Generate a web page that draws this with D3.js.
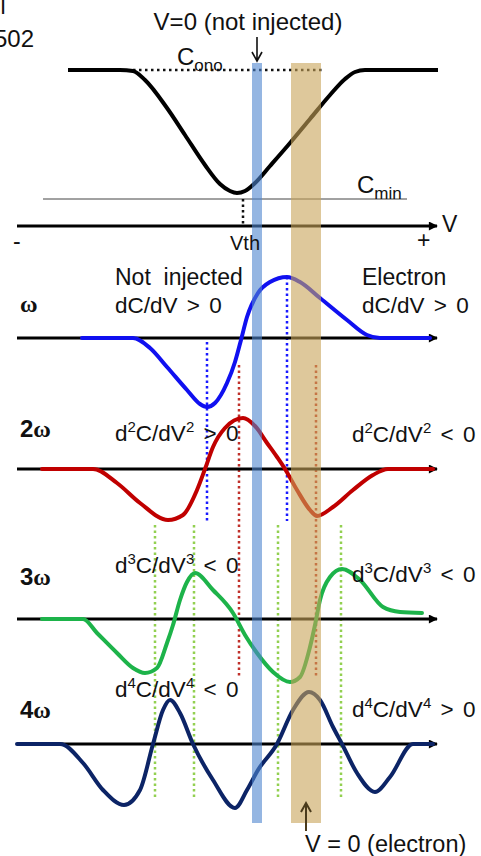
<!DOCTYPE html>
<html>
<head>
<meta charset="utf-8">
<script src="https://cdn.jsdelivr.net/npm/d3@7"></script>
<style>
  body { margin: 0; background: #fff; }
  svg { display: block; font-family: "Liberation Sans", Arial, sans-serif; }
  text { white-space: pre; }
</style>
</head>
<body>
<svg id="chart" width="481" height="856"></svg>
<script>
// gate voltage in arbitrary units, Vth close to 0
const cvCurve = [[-159,129],[-107,129],[-94,128],[-82,119],[-60,91],[-42,64],[-22,34],[-7,15],[3,8],[10,6],[18,8],[28,16],[43,33],[63,56],[83,80],[103,104],[118,120],[128,127],[138,129],[211,129]]
const harmonic1 = [[-145,0],[-94,0],[-77,-10],[-60,-29],[-40,-52],[-27,-66],[-20,-69],[-12,-65],[0,-45],[8,-24],[14,-2],[20,21],[31,45],[43,56],[60,61],[73,56],[93,40],[120,18],[140,3],[153,0],[203,0]]
const harmonic2 = [[-185,0],[-134,0],[-110,-14],[-87,-34],[-59,-51],[-44,-46],[-30,-21],[-22,0],[-14,22],[-2,41],[16,51],[28,43],[40,26],[50,12],[58,0],[70,-21],[83,-41],[90,-47],[106,-38],[126,-21],[146,-6],[161,0],[206,0]]
const harmonic3 = [[-185,0],[-144,0],[-130,-14],[-110,-34],[-94,-49],[-82,-54],[-70,-49],[-60,-24],[-54,-6],[-47,19],[-40,37],[-32,46],[-14,29],[6,6],[18,-16],[30,-34],[46,-53],[63,-63],[73,-58],[83,-28],[88,-6],[93,19],[103,42],[115,50],[133,39],[156,12],[173,7],[195,6]]
const harmonic4 = [[-210,0],[-167,0],[-144,-19],[-124,-46],[-103,-61],[-87,-46],[-74,0],[-64,34],[-57,44],[-47,31],[-34,0],[-14,-36],[8,-64],[20,-46],[31,-26],[50,0],[66,34],[82,52],[93,44],[106,17],[115,0],[130,-29],[148,-48],[163,-33],[186,0],[206,0]]

const vth = 16
const bandNotInjected = [25, 35]
const bandElectron = [64, 94]
const guides1 = [-20, 60]
const guides2 = [12, 89]
const guides3 = [-72, -33, 51, 114]

const svg = d3.select('#chart')
const x = d3.scaleLinear().domain([-210, 210]).range([17, 437])
const yC = d3.scaleLinear().domain([0, 129]).range([199, 70])

const panels = [
  { key: 'h1', data: harmonic1, axisY: 338, color: '#1010f0', n: '', left: 'dC/dV > 0', right: 'dC/dV > 0', ly: 313, ry: 313, labelY: 312 },
  { key: 'h2', data: harmonic2, axisY: 469, color: '#c00000', n: '2', left: '> 0', right: '< 0', ly: 441, ry: 442, labelY: 437 },
  { key: 'h3', data: harmonic3, axisY: 619, color: '#1db34a', n: '3', left: '< 0', right: '< 0', ly: 573, ry: 582, labelY: 585 },
  { key: 'h4', data: harmonic4, axisY: 744, color: '#0c2466', n: '4', left: '< 0', right: '> 0', ly: 697, ry: 717, labelY: 718 },
]
panels.forEach((p) => {
  p.y = d3.scaleLinear().domain([-100, 100]).range([p.axisY + 100, p.axisY - 100])
})

const defs = svg.append('defs')
defs.append('marker')
  .attr('id', 'arrow')
  .attr('viewBox', '0 0 10 10')
  .attr('refX', 9).attr('refY', 5)
  .attr('markerWidth', 10).attr('markerHeight', 9)
  .attr('markerUnits', 'userSpaceOnUse')
  .attr('orient', 'auto')
  .append('path').attr('d', 'M0,0L10,5L0,10Z').attr('fill', '#000')

// guide lines (dotted), under everything
const dotted = (g, xv, y1, y2, color) =>
  g.append('line')
    .attr('x1', x(xv)).attr('x2', x(xv))
    .attr('y1', y1).attr('y2', y2)
    .attr('stroke', color).attr('stroke-width', 2.5)
    .attr('stroke-dasharray', '2.5,3')

const guides = svg.append('g')
guides1.forEach((v) => dotted(guides, v, v < 0 ? 342 : panels[0].y(61), 521, '#1a1aff'))
guides2.forEach((v) => dotted(guides, v, 365, 676, '#c0302a'))
guides3.forEach((v) => dotted(guides, v, 525, 797, '#92d050'))

// top C-V panel
const cvGroup = svg.append('g')
cvGroup.append('line')
  .attr('x1', x(-94)).attr('x2', x(96)).attr('y1', yC(129)).attr('y2', yC(129))
  .attr('stroke', '#111').attr('stroke-width', 2.5).attr('stroke-dasharray', '2.5,3.5')
cvGroup.append('line')
  .attr('x1', 43).attr('x2', 407).attr('y1', yC(0)).attr('y2', yC(0))
  .attr('stroke', '#444').attr('stroke-width', 1)
cvGroup.append('line')
  .attr('x1', x(vth)).attr('x2', x(vth)).attr('y1', yC(0)).attr('y2', 226)
  .attr('stroke', '#111').attr('stroke-width', 2.5).attr('stroke-dasharray', '2.5,3')
cvGroup.append('line')
  .attr('x1', x(-210)).attr('x2', x(210)).attr('y1', 226).attr('y2', 226)
  .attr('stroke', '#000').attr('stroke-width', 3).attr('marker-end', 'url(#arrow)')

const line = (ys) => d3.line().x((d) => x(d[0])).y((d) => ys(d[1])).curve(d3.curveMonotoneX)

cvGroup.append('path')
  .datum(cvCurve)
  .attr('d', line(yC))
  .attr('fill', 'none').attr('stroke', '#000').attr('stroke-width', 4)

// harmonic panels
panels.forEach((p) => {
  const g = svg.append('g').attr('class', p.key)
  g.append('line')
    .attr('x1', x(-210)).attr('x2', x(210)).attr('y1', p.axisY).attr('y2', p.axisY)
    .attr('stroke', '#000').attr('stroke-width', 3).attr('marker-end', 'url(#arrow)')
  g.append('path')
    .datum(p.data)
    .attr('d', line(p.y))
    .attr('fill', 'none').attr('stroke', p.color).attr('stroke-width', 4)
    .attr('stroke-linecap', 'round')
})

// the two V=0 bands, semi transparent over the curves
svg.append('rect')
  .attr('x', x(bandNotInjected[0])).attr('width', x(bandNotInjected[1]) - x(bandNotInjected[0]))
  .attr('y', 63).attr('height', 760)
  .attr('fill', '#4f86cf').attr('opacity', 0.6)
svg.append('rect')
  .attr('x', x(bandElectron[0])).attr('width', x(bandElectron[1]) - x(bandElectron[0]))
  .attr('y', 63).attr('height', 760)
  .attr('fill', '#c8a358').attr('opacity', 0.6)

// small pointer arrows
const xb = x((bandNotInjected[0] + bandNotInjected[1]) / 2)
svg.append('path')
  .attr('d', `M${xb},37V61M${xb - 5},52L${xb},61L${xb + 5},52`)
  .attr('fill', 'none').attr('stroke', '#111').attr('stroke-width', 1.6)
const xe = x((bandElectron[0] + bandElectron[1]) / 2)
svg.append('path')
  .attr('d', `M${xe},831V803M${xe - 5},812L${xe},803L${xe + 5},812`)
  .attr('fill', 'none').attr('stroke', '#4a3b1c').attr('stroke-width', 2)

// texts
const txt = (t, px, py, size, opts = {}) =>
  svg.append('text')
    .attr('x', px).attr('y', py)
    .attr('font-size', size)
    .attr('fill', '#111')
    .attr('text-anchor', opts.anchor || 'start')
    .attr('word-spacing', opts.ws || 0)
    .text(t)

// leftovers of a caption cut by the left edge
txt('I', 0, 14, 22)
txt('502', -6, 47, 24)
txt('V=0 (not injected)', 248, 30, 24, { anchor: 'middle' })

const sub = (main, s, px, py) => {
  const t = svg.append('text').attr('x', px).attr('y', py).attr('font-size', 24).attr('fill', '#111')
  t.append('tspan').text(main)
  t.append('tspan').attr('font-size', 17).attr('dy', 6).text(s)
}
sub('C', 'ono', 177, 65)
sub('C', 'min', 357, 193)

txt('V', 442, 232, 23)
txt('-', 13, 249, 23)
txt('+', 417, 248, 23)
txt('Vth', 245, 250, 20, { anchor: 'middle' })

txt('Not  injected', 115, 285, 23)
txt('Electron', 362, 285, 23)

const omega = (p, px) => {
  const t = svg.append('text').attr('x', px).attr('y', p.labelY).attr('fill', '#111').attr('font-weight', 'bold')
  if (p.n) t.append('tspan').attr('font-size', 24).text(p.n)
  t.append('tspan').attr('font-family', '"Liberation Serif", "DejaVu Serif", serif').attr('font-size', 24).text('ω')
}

const deriv = (p, px, py, rel) => {
  const t = svg.append('text').attr('x', px).attr('y', py)
    .attr('font-size', 22.5).attr('word-spacing', 3).attr('fill', '#111')
  if (!p.n) {
    t.text(rel)
    return
  }
  t.append('tspan').text('d')
  t.append('tspan').attr('font-size', 15).attr('dy', -9).text(p.n)
  t.append('tspan').attr('dy', 9).text('C/dV')
  t.append('tspan').attr('font-size', 15).attr('dy', -9).text(p.n)
  t.append('tspan').attr('dy', 9).text(' ' + rel)
}

panels.forEach((p) => {
  omega(p, 20)
  deriv(p, 115, p.ly, p.left)
  deriv(p, p.n ? 352 : 362, p.ry, p.right)
})

txt('V = 0 (electron)', 305, 852, 23.5)
</script>
</body>
</html>
